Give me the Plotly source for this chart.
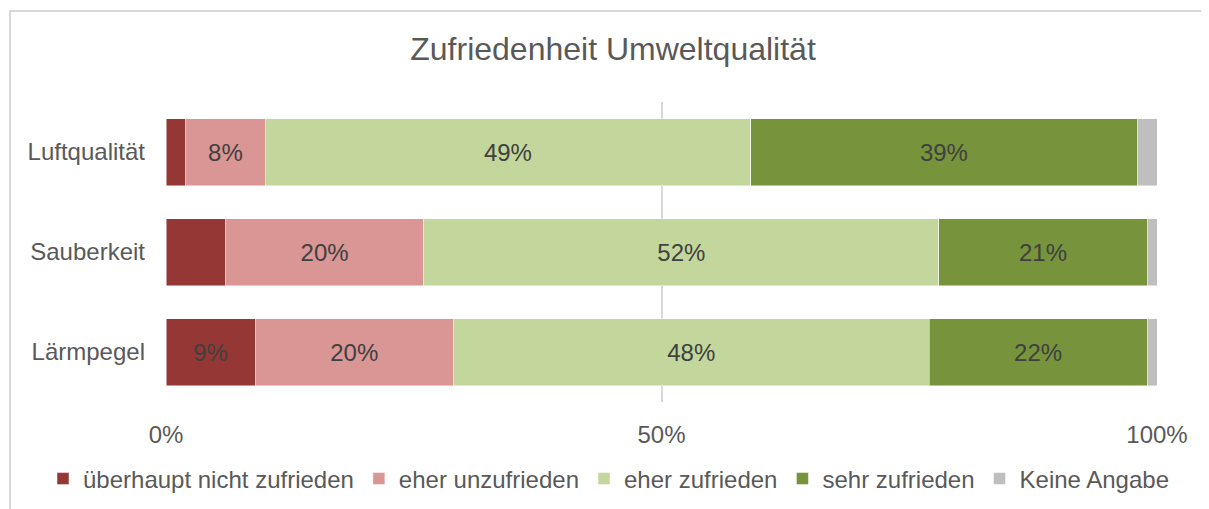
import plotly.graph_objects as go

categories = ["Luftqualität", "Sauberkeit", "Lärmpegel"]

series_names = [
    "überhaupt nicht zufrieden",
    "eher unzufrieden",
    "eher zufrieden",
    "sehr zufrieden",
    "Keine Angabe",
]
series_values = [
    [2, 6, 9],
    [8, 20, 20],
    [49, 52, 48],
    [39, 21, 22],
    [2, 1, 1],
]
series_colors = ["#953735", "#D99694", "#C3D69B", "#77933C", "#BFBFBF"]

x_ticks = [0, 50, 100]
x_tick_labels = ["0%", "50%", "100%"]

# smaller segments are left unlabelled, as in the original
min_label = 8

# page has an 8px body margin, so the figure is sized/offset to match
W, H = 1201, 501
L, R, T, B = 158, 52, 94, 107
PW, PH = W - L - R, H - T - B

fig = go.Figure()
for name, vals, color in zip(series_names, series_values, series_colors):
    fig.add_trace(
        go.Bar(
            y=categories,
            x=vals,
            name=name,
            orientation="h",
            marker=dict(color=color, line=dict(color="rgba(255,255,255,0.6)", width=0.8)),
            text=[f"{v}%" if v >= min_label else "" for v in vals],
            textposition="inside",
            insidetextanchor="middle",
            textangle=0,
            constraintext="none",
            textfont=dict(size=24, color="#404040"),
            hoverinfo="name+x",
        )
    )

fig.update_layout(
    width=W,
    height=H,
    barmode="stack",
    bargap=0.33,
    plot_bgcolor="white",
    paper_bgcolor="white",
    margin=dict(l=L, r=R, t=T, b=B, autoexpand=False),
    font=dict(family="Liberation Sans, Arial, sans-serif", color="#595959", size=24),
    title=dict(
        text="Zufriedenheit Umweltqualität",
        x=605 / W,
        xanchor="center",
        y=1 - 41 / H,
        yanchor="middle",
        font=dict(size=32, color="#595959"),
    ),
    # anchored left of the plot area so the single row may use the left margin too
    legend=dict(
        orientation="h",
        x=(35 - L) / PW,
        xanchor="left",
        y=-(471 - (H - B)) / PH,
        yanchor="middle",
        font=dict(size=24, color="#595959"),
        traceorder="normal",
        itemclick=False,
        itemwidth=30,
    ),
    showlegend=True,
    shapes=[
        dict(
            type="rect",
            xref="paper",
            yref="paper",
            x0=(2 - L) / PW,
            x1=(1260 - L) / PW,
            y0=-(540 - (H - B)) / PH,
            y1=(H - B - 3) / PH,
            line=dict(color="#D9D9D9", width=2),
            layer="below",
        )
    ],
)

fig.update_xaxes(
    range=[0, 100],
    tickvals=x_ticks,
    ticktext=x_tick_labels,
    showgrid=True,
    gridcolor="#D9D9D9",
    gridwidth=1.5,
    zeroline=False,
    showline=False,
    ticks="",
    ticklabelstandoff=16,
    tickfont=dict(size=24, color="#595959"),
    fixedrange=True,
)
fig.update_yaxes(
    autorange="reversed",
    showgrid=False,
    showline=False,
    ticks="",
    ticklabelstandoff=20,
    tickfont=dict(size=24, color="#595959"),
    fixedrange=True,
)

fig.write_html("out.html")
